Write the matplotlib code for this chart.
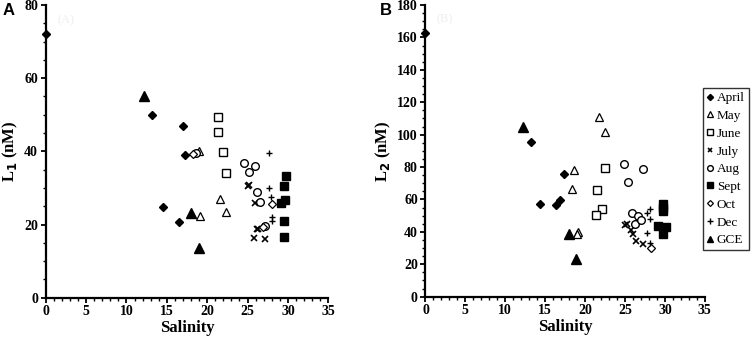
import matplotlib
matplotlib.use("Agg")
import matplotlib.pyplot as plt
from matplotlib.ticker import MultipleLocator

# panel A: L1 vs salinity, panel B: L2 vs salinity
months = ["April", "May", "June", "July", "Aug", "Sept", "Oct", "Dec", "GCE"]

sA = {
    "April": ([0, 13.2, 17.0, 17.3, 14.5, 16.5], [72, 50, 47, 39, 24.7, 20.8]),
    "May": ([19.0, 21.6, 22.3, 19.1], [40, 26.9, 23.5, 22.3]),
    "June": ([21.4, 21.4, 21.9, 22.3], [49.3, 45.2, 39.8, 34.1]),
    "July": ([25.0, 25.2, 25.9, 26.2, 26.3, 25.8, 27.2], [30.4, 30.8, 25.8, 18.7, 18.9, 16.2, 16.0]),
    "Aug": ([18.6, 24.6, 25.9, 25.2, 26.2, 26.6, 27.1], [39.5, 36.7, 36.1, 34.3, 28.9, 26.1, 19.6]),
    "Sept": ([29.8, 29.5, 29.6, 29.1, 29.5, 29.5], [33.4, 30.5, 26.7, 25.8, 21.0, 16.7]),
    "Oct": ([18.2, 28.0, 26.9], [39.2, 25.7, 19.2]),
    "Dec": ([27.6, 27.7, 27.9, 28.0, 28.0], [39.5, 30.1, 27.6, 22.0, 21.0]),
    "GCE": ([12.2, 18.0, 19.0], [55, 23.1, 13.7]),
}

sB = {
    "April": ([0, 13.2, 17.4, 14.3, 16.4, 16.9], [163, 95.5, 75.9, 57.2, 56.8, 59.7]),
    "May": ([21.7, 22.5, 18.6, 18.3, 19.1, 19.0], [111, 101.5, 78.2, 66.5, 40, 38.6]),
    "June": ([22.5, 21.5, 22.1, 21.4], [79.4, 65.9, 54.1, 50.6]),
    "July": ([25.0, 25.3, 25.8, 26.0, 26.4, 27.2], [44, 45, 41, 39, 34.5, 32.5]),
    "Aug": ([24.9, 27.2, 25.4, 25.9, 26.2, 26.6, 27.0], [82.1, 78.8, 70.6, 51.9, 44.9, 49.6, 47.5]),
    "Sept": ([29.7, 29.7, 29.7, 29.1, 30.1, 29.8], [57.2, 54.5, 53, 43.6, 43, 38.5]),
    "Oct": ([28.2], [30]),
    "Dec": ([28.1, 27.7, 28.1, 27.8, 28.1], [54.3, 51.5, 47.8, 39.5, 33]),
    "GCE": ([12.2, 18.0, 18.9], [104.6, 38.7, 23.1]),
}

style = {
    "April": dict(marker="D", ms=4.2, mfc="black", mec="black"),
    "May": dict(marker="^", ms=5.5, mfc="white", mec="black", mew=0.9),
    "June": dict(marker="s", ms=5.5, mfc="white", mec="black", mew=1.0),
    "July": dict(marker="x", ms=4.5, color="black", mew=1.2),
    "Aug": dict(marker="o", ms=5.5, mfc="white", mec="black", mew=1.0),
    "Sept": dict(marker="s", ms=5.5, mfc="black", mec="black"),
    "Oct": dict(marker="D", ms=4, mfc="white", mec="black", mew=0.9),
    "Dec": dict(marker="+", ms=5, color="black", mew=1.0),
    "GCE": dict(marker="^", ms=6.5, mfc="black", mec="black"),
}

serif = "Liberation Serif"
fig = plt.figure(figsize=(7.53, 3.48), dpi=100)
axA = fig.add_axes([0.0607, 0.1445, 0.3753, 0.8411])
axB = fig.add_axes([0.565, 0.1474, 0.371, 0.8382])

def setup(ax, series, ymax, ylabel, faint):
    for m in months:
        xs, ys = series[m]
        ax.plot(xs, ys, linestyle="none", clip_on=False, label=m, **style[m])
    ax.set_xlim(0, 35)
    ax.set_ylim(0, ymax)
    ax.xaxis.set_major_locator(MultipleLocator(5))
    ax.xaxis.set_minor_locator(MultipleLocator(1))
    ax.yaxis.set_major_locator(MultipleLocator(20))
    ax.yaxis.set_minor_locator(MultipleLocator(5))
    for sp in ["top", "right"]:
        ax.spines[sp].set_visible(False)
    for sp in ["left", "bottom"]:
        ax.spines[sp].set_linewidth(1.6)
    ax.tick_params(which="major", direction="out", length=3.5, width=1.3, labelsize=10, pad=2)
    ax.tick_params(which="minor", direction="out", length=2, width=1.0)
    for lab in ax.get_xticklabels() + ax.get_yticklabels():
        lab.set_fontfamily(serif)
        lab.set_fontweight("bold")
    ax.set_xlabel("Salinity", fontfamily=serif, fontweight="bold", fontsize=12, labelpad=1)
    ax.set_ylabel(ylabel, fontfamily=serif, fontweight="bold", fontsize=12, labelpad=3)
    ax.text(0.04, 0.97, faint, transform=ax.transAxes, fontfamily=serif,
            fontsize=9, color="#eeeeee", va="top")

setup(axA, sA, 80, "L$_\\mathbf{1}$ (nM)", "(A)")
setup(axB, sB, 180, "L$_\\mathbf{2}$ (nM)", "(B)")

fig.text(0.004, 0.99, "A", fontfamily="Liberation Sans", fontweight="bold", fontsize=12, va="top")
fig.text(0.505, 0.99, "B", fontfamily="Liberation Sans", fontweight="bold", fontsize=12, va="top")

h, l = axB.get_legend_handles_labels()
leg = fig.legend(h, l, loc="upper left", bbox_to_anchor=(703 / 753, 1 - 88 / 348),
                 frameon=True, fancybox=False, edgecolor="black", borderpad=0.3,
                 handlelength=0.5, handletextpad=0.25, labelspacing=0.42, markerscale=0.75,
                 borderaxespad=0, prop={"family": serif, "size": 9.5})
leg.get_frame().set_linewidth(1.0)

fig.savefig("out.png", dpi=100)
